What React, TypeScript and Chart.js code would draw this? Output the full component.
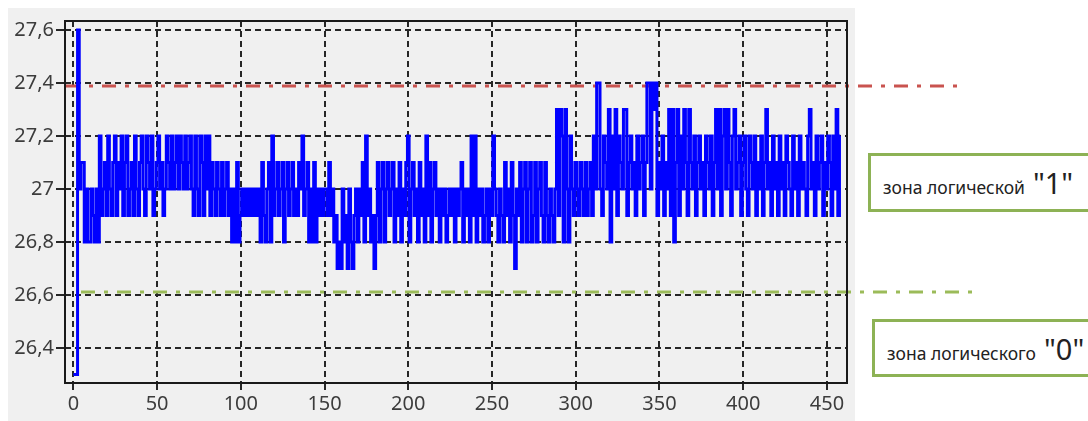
import React, { useEffect, useRef } from "react";
import { Chart, registerables } from "chart.js";

Chart.register(...registerables);

const xTickValues = [0, 50, 100, 150, 200, 250, 300, 350, 400, 450];
const yTickValues = [26.4, 26.6, 26.8, 27.0, 27.2, 27.4, 27.6];
const yTickLabels = ["26,4", "26,6", "26,8", "27", "27,2", "27,4", "27,6"];
const upperThreshold = 27.39;
const lowerThreshold = 26.61;
const zoneOneText = "зона логической";
const zoneOneMark = "\"1\"";
const zoneZeroText = "зона логического";
const zoneZeroMark = "\"0\"";

const temperature = [
  26.3, 26.3, 26.3, 27.6, 27.0, 27.1, 27.1, 26.8, 27.0, 26.8,
  26.8, 27.0, 26.9, 26.8, 27.0, 26.8, 27.2, 26.9, 27.0, 27.1,
  26.9, 27.2, 27.0, 26.9, 27.1, 27.2, 26.9, 27.1, 27.0, 27.2,
  26.9, 27.1, 27.2, 26.9, 27.0, 27.1, 26.9, 27.2, 27.0, 26.9,
  27.1, 27.2, 27.0, 26.9, 27.2, 27.1, 27.0, 27.2, 26.9, 27.0,
  27.1, 27.2, 27.0, 27.1, 26.9, 27.0, 27.2, 27.1, 27.0, 27.2,
  27.0, 27.1, 27.2, 27.0, 27.2, 27.1, 27.0, 27.2, 27.0, 27.1,
  27.2, 27.0, 26.9, 27.2, 27.0, 26.9, 27.2, 27.1, 26.9, 27.2,
  27.0, 27.2, 26.9, 27.1, 27.0, 26.9, 27.1, 27.0, 26.9, 27.1,
  26.9, 27.0, 27.1, 26.9, 27.0, 26.8, 27.0, 26.8, 27.1, 26.8,
  26.9, 27.0, 26.9, 27.0, 26.9, 27.0, 26.9, 27.0, 26.9, 27.0,
  26.9, 27.0, 26.8, 27.1, 26.9, 26.8, 27.0, 27.1, 26.8, 27.2,
  26.9, 27.0, 27.1, 26.9, 27.0, 27.1, 26.8, 27.0, 27.1, 26.9,
  27.0, 27.1, 26.9, 27.0, 26.9, 27.1, 27.0, 27.2, 26.9, 27.0,
  27.1, 26.8, 27.0, 26.8, 27.1, 26.8, 27.0, 26.9, 27.0, 26.9,
  27.0, 27.0, 26.9, 27.1, 26.9, 27.0, 26.8, 26.9, 26.7, 26.8,
  26.7, 27.0, 26.8, 26.9, 26.7, 27.0, 26.8, 26.7, 26.9, 27.0,
  26.8, 27.0, 26.9, 27.1, 26.8, 27.2, 26.9, 27.0, 26.8, 26.9,
  26.7, 26.9, 27.1, 26.8, 27.0, 27.1, 26.8, 27.0, 27.1, 26.9,
  27.0, 27.1, 26.8, 27.0, 26.9, 27.1, 26.8, 27.0, 26.9, 27.1,
  27.2, 26.8, 27.0, 27.1, 26.9, 27.0, 26.8, 27.1, 26.9, 27.0,
  26.8, 27.2, 26.9, 27.1, 26.8, 27.0, 27.1, 26.9, 27.0, 26.8,
  27.0, 26.9, 27.0, 26.8, 26.9, 27.0, 26.9, 27.0, 26.8, 27.0,
  26.9, 27.0, 27.1, 26.8, 27.0, 26.9, 27.0, 26.8, 27.2, 26.9,
  27.2, 26.8, 27.0, 26.9, 27.0, 26.8, 26.9, 27.0, 26.8, 27.0,
  26.9, 27.2, 27.0, 26.9, 26.8, 27.0, 26.9, 26.8, 27.1, 26.9,
  27.0, 26.8, 27.1, 26.9, 26.7, 27.0, 26.9, 27.1, 26.8, 27.0,
  27.1, 26.8, 27.0, 27.1, 26.8, 26.9, 27.1, 26.8, 27.0, 27.1,
  26.9, 26.8, 27.1, 26.9, 26.8, 27.0, 26.9, 26.8, 27.0, 27.3,
  26.9, 27.3, 27.2, 26.8, 27.3, 27.0, 26.8, 27.2, 27.0, 26.9,
  27.1, 27.0, 26.9, 27.1, 27.0, 26.9, 27.1, 26.9, 27.0, 27.1,
  26.9, 27.2, 27.0, 27.4, 27.4, 27.0, 26.9, 27.2, 27.1, 27.0,
  27.3, 26.8, 27.2, 27.0, 27.3, 26.9, 27.2, 27.1, 27.0, 27.3,
  27.3, 26.9, 27.1, 27.2, 27.0, 27.1, 26.9, 27.2, 27.0, 27.1,
  27.2, 26.9, 27.1, 27.4, 27.4, 27.0, 27.4, 27.3, 27.4, 26.9,
  27.1, 27.0, 27.2, 26.9, 27.1, 27.0, 27.3, 26.9, 27.3, 26.8,
  27.1, 27.3, 26.9, 27.2, 27.0, 27.3, 27.1, 26.9, 27.3, 27.1,
  27.0, 27.2, 26.9, 27.1, 27.2, 27.0, 27.1, 26.9, 27.2, 27.1,
  27.0, 27.2, 26.9, 27.1, 27.3, 27.0, 27.3, 26.9, 27.2, 27.3,
  27.0, 27.3, 27.1, 26.9, 27.2, 27.3, 27.0, 27.1, 27.2, 26.9,
  27.1, 27.2, 27.0, 26.9, 27.2, 27.1, 27.0, 27.2, 26.9, 27.1,
  27.0, 27.2, 26.9, 27.1, 27.3, 27.0, 27.1, 26.9, 27.2, 27.0,
  27.1, 26.9, 27.2, 27.0, 27.1, 26.9, 27.2, 27.1, 27.0, 26.9,
  27.2, 27.0, 27.1, 26.9, 27.2, 27.0, 27.1, 27.0, 26.9, 27.2,
  27.3, 27.0, 27.1, 26.9, 27.2, 27.0, 27.1, 27.2, 26.9, 27.1,
  27.0, 27.2, 27.1, 26.9, 27.2, 27.0, 27.3, 26.9, 27.2,
];

const FONT = "'Noto Sans', 'DejaVu Sans', sans-serif";

const thresholdPlugin = {
  id: "thresholds",
  beforeDatasetsDraw(chart: any) {
    const { ctx, chartArea, scales } = chart;
    const y = scales.y;
    const draw = (value: number, color: string, x0: number, x1: number) => {
      const py = Math.round(y.getPixelForValue(value));
      ctx.save();
      ctx.strokeStyle = color;
      ctx.lineWidth = 3;
      ctx.setLineDash([14, 9, 4, 9]);
      ctx.beginPath();
      ctx.moveTo(x0, py);
      ctx.lineTo(x1, py);
      ctx.stroke();
      ctx.restore();
    };
    draw(upperThreshold, "#c9534f", chartArea.left + 1, 958);
    draw(lowerThreshold, "#9bbb59", chartArea.left + 16, 976);
  },
};

const framePlugin = {
  id: "frame",
  afterDatasetsDraw(chart: any) {
    const { ctx, chartArea } = chart;
    ctx.save();
    ctx.strokeStyle = "#1a1a1a";
    ctx.lineWidth = 2;
    ctx.setLineDash([]);
    ctx.strokeRect(
      chartArea.left,
      chartArea.top,
      chartArea.right - chartArea.left,
      chartArea.bottom - chartArea.top
    );
    ctx.restore();
  },
};

function ZoneBox(props: { top: number; left: number; height: number; text: string; mark: string }) {
  return (
    <div
      style={{
        position: "absolute",
        left: props.left,
        top: props.top,
        width: 260,
        height: props.height,
        boxSizing: "border-box",
        border: "3px solid #8db255",
        background: "#ffffff",
        display: "flex",
        alignItems: "baseline",
        paddingLeft: 12,
        paddingTop: 7,
        fontFamily: FONT,
        color: "#222",
      }}
    >
      <span style={{ fontSize: 17.5 }}>{props.text}</span>
      <span style={{ fontSize: 29, marginLeft: 8 }}>{props.mark}</span>
    </div>
  );
}

export default function App() {
  const canvasRef = useRef<HTMLCanvasElement | null>(null);

  useEffect(() => {
    if (!canvasRef.current) return;
    const points = temperature.map((v, i) => ({ x: i, y: v }));
    const chart = new Chart(canvasRef.current, {
      type: "line",
      data: {
        datasets: [
          {
            data: points,
            borderColor: "#0000ff",
            borderWidth: 3,
            pointRadius: 0,
            stepped: "middle",
            fill: false,
          },
        ],
      },
      options: {
        animation: false,
        responsive: false,
        devicePixelRatio: 1,
        layout: { padding: { left: 0, top: 21, right: 241, bottom: 0 } },
        plugins: { legend: { display: false }, tooltip: { enabled: false } },
        scales: {
          x: {
            type: "linear",
            min: -5,
            max: 462,
            afterFit: (s: any) => {
              s.height = 38;
            },
            afterBuildTicks: (s: any) => {
              s.ticks = xTickValues.map((v) => ({ value: v }));
            },
            ticks: {
              color: "#3c3c3c",
              font: { family: FONT, size: 20 },
              padding: 2,
              maxRotation: 0,
              callback: (v: any) => String(v),
            },
            grid: {
              color: "#262626",
              lineWidth: 2,
              tickLength: 7,
              tickColor: "#262626",
              tickBorderDash: [],
              tickWidth: 2,
            },
            border: { display: false, dash: [6, 4] },
          },
          y: {
            type: "linear",
            min: 26.268,
            max: 27.634,
            afterFit: (s: any) => {
              s.width = 65;
            },
            afterBuildTicks: (s: any) => {
              s.ticks = yTickValues.map((v) => ({ value: v }));
            },
            ticks: {
              color: "#3c3c3c",
              font: { family: FONT, size: 20 },
              padding: 2,
              callback: (v: any) => {
                const idx = yTickValues.findIndex((t) => Math.abs(t - v) < 1e-6);
                return idx >= 0 ? yTickLabels[idx] : "";
              },
            },
            grid: {
              color: "#262626",
              lineWidth: 2,
              tickLength: 9,
              tickColor: "#262626",
              tickBorderDash: [],
              tickWidth: 2,
            },
            border: { display: false, dash: [6, 4] },
          },
        },
      },
      plugins: [thresholdPlugin, framePlugin],
    } as any);
    return () => chart.destroy();
  }, []);

  return (
    <div
      style={{
        position: "fixed",
        left: 0,
        top: 0,
        width: 1088,
        height: 421,
        background: "#ffffff",
        overflow: "hidden",
      }}
    >
      <div
        style={{
          position: "absolute",
          left: 8,
          top: 8,
          width: 847,
          height: 413,
          background: "#f0f0f0",
        }}
      />
      <canvas
        ref={canvasRef}
        width={1088}
        height={421}
        style={{ position: "absolute", left: 0, top: 0, width: 1088, height: 421 }}
      />
      <ZoneBox left={868} top={153} height={59} text={zoneOneText} mark={zoneOneMark} />
      <ZoneBox left={872} top={319} height={58} text={zoneZeroText} mark={zoneZeroMark} />
    </div>
  );
}
